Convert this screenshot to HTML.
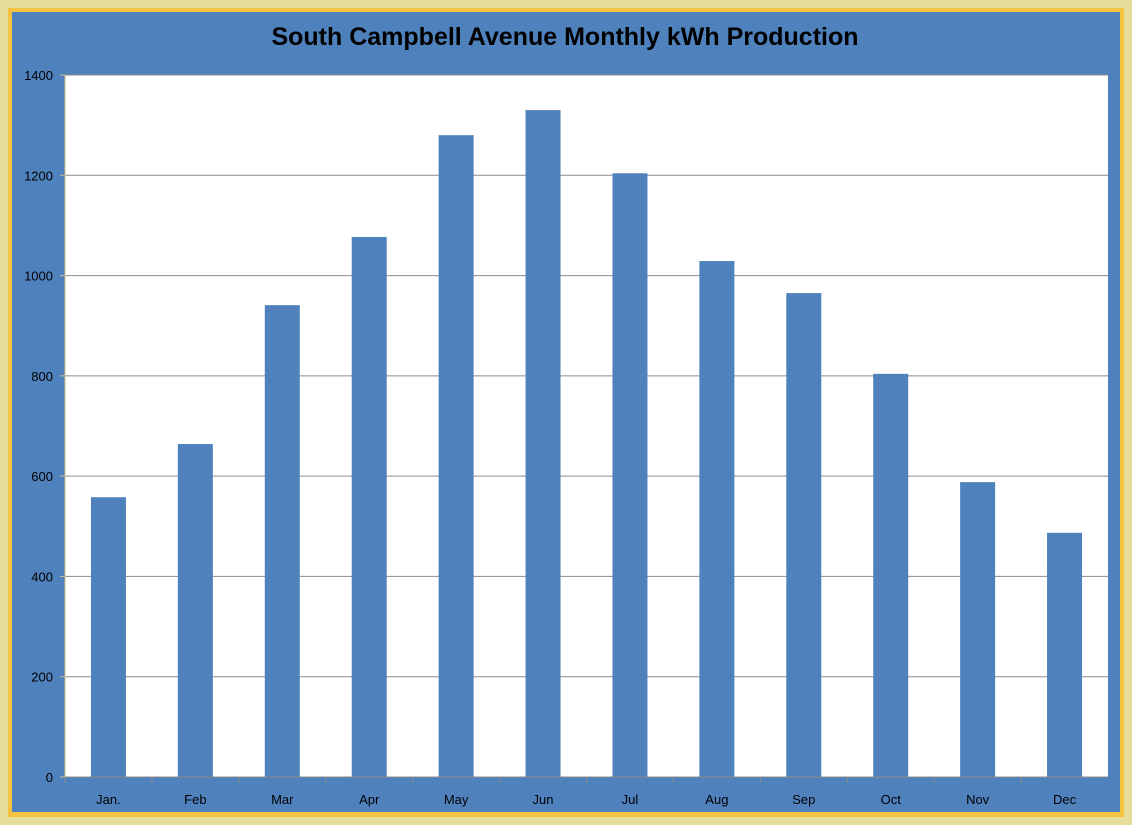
<!DOCTYPE html>
<html><head><meta charset="utf-8"><style>
html,body{margin:0;padding:0;width:1132px;height:825px;overflow:hidden;background:#e8e2a8}
svg{display:block}
text{font-family:"Liberation Sans",sans-serif}
</style></head><body>
<svg width="1132" height="825">
<rect x="0" y="0" width="1132" height="825" fill="#e6dd9a"/>
<rect x="8" y="8" width="1116" height="809" fill="#f5c242"/>
<rect x="12" y="12" width="1108" height="800" fill="#4f81bd"/>
<text x="565" y="45" text-anchor="middle" font-size="25" font-weight="bold" fill="#000">South Campbell Avenue Monthly kWh Production</text>
<rect x="65" y="75" width="1043" height="702" fill="#fff"/>
<g id="grid"></g><g id="bars"></g><g id="axes"></g>
</svg>
<script>
const categories=["Jan.","Feb","Mar","Apr","May","Jun","Jul","Aug","Sep","Oct","Nov","Dec"];
const values=[558,664,941,1077,1280,1330,1204,1029,965,804,588,487];
const yTicks=[0,200,400,600,800,1000,1200,1400];
const NS="http://www.w3.org/2000/svg";
const L=65,R=1108,T=75,B=777,YMAX=1400;
const y=v=>B-(v/YMAX)*(B-T);
const bw=(R-L)/categories.length;
const x=i=>L+bw*i;
function mk(tag,attrs,parent){const e=document.createElementNS(NS,tag);for(const k in attrs)e.setAttribute(k,attrs[k]);document.getElementById(parent).appendChild(e);return e;}
yTicks.forEach(t=>{
  if(t>0){const g=mk("line",{x1:L,x2:R,y1:y(t),y2:y(t),stroke:"#8c8c8c","stroke-width":1},"grid");
  
  }
  const tk=mk("line",{x1:L-5,x2:L,y1:y(t),y2:y(t),stroke:"#c8c28a"},"axes");
  
  
  const lb=mk("text",{x:L-12,y:y(t)+5,"text-anchor":"end","font-size":13,fill:"#000"},"axes");
  lb.textContent=t;
  
  
});
const ya=mk("line",{x1:L,x2:L,y1:T,y2:B,stroke:"#c8c28a"},"axes");


const xa=mk("line",{x1:L,x2:R,y1:B,y2:B,stroke:"#8c8c8c"},"axes");


categories.forEach((c,i)=>{
  const w=35;
  const r=mk("rect",{x:x(i)+bw/2-w/2,y:y(values[i]),width:w,height:B-y(values[i]),fill:"#4f81bd"},"bars");
  
  
  const tk=mk("line",{x1:x(i),x2:x(i),y1:B,y2:B+6,stroke:"#8c8c8c"},"axes");
  
  
  const lb=mk("text",{x:x(i)+bw/2,y:B+27,"text-anchor":"middle","font-size":13,fill:"#000"},"axes");
  lb.textContent=c;
  
  
});
</script>
</body></html>
